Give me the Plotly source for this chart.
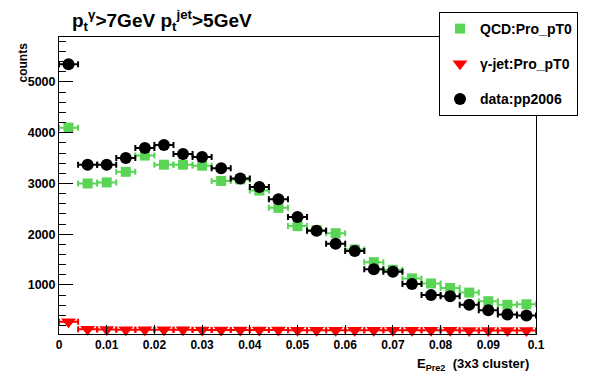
import plotly.graph_objects as go

x_centers = [0.002 + 0.004 * i for i in range(25)]
bin_half = [0.002] * 25

qcd = [4100, 3000, 3020, 3230, 3550, 3370, 3370, 3350, 3050, 3080,
       2860, 2520, 2160, 2080, 2020, 1700, 1450, 1300, 1130, 1030,
       940, 850, 680, 610, 620]
gjet = [276, 126, 122, 120, 118, 118, 116, 115, 114, 113,
        112, 111, 110, 110, 109, 108, 108, 107, 107, 106,
        106, 105, 105, 104, 104]
data = [5350, 3370, 3370, 3500, 3700, 3760, 3580, 3520, 3300, 3100,
        2930, 2690, 2340, 2070, 1810, 1670, 1310, 1260, 1020, 800,
        780, 610, 500, 420, 400]

x_tick_vals = [0, 0.01, 0.02, 0.03, 0.04, 0.05, 0.06, 0.07, 0.08, 0.09, 0.1]
x_tick_text = ["0", "0.01", "0.02", "0.03", "0.04", "0.05", "0.06", "0.07",
               "0.08", "0.09", "0.1"]
y_tick_vals = [1000, 2000, 3000, 4000, 5000]
y_tick_text = ["1000", "2000", "3000", "4000", "5000"]

GREEN = "#59d454"
FONT = "Liberation Sans"

fig = go.Figure()

def add(y, name, color, symbol, size, group):
    fig.add_trace(go.Scatter(
        x=x_centers, y=y, mode="markers", name="<b>" + name + "</b>",
        legendgroup=group,
        marker=dict(color=color, symbol=symbol, size=size, line=dict(width=0)),
        error_x=dict(type="data", array=bin_half, visible=True,
                     color=color, thickness=2, width=3),
        cliponaxis=False,
    ))

add(qcd, "QCD:Pro_pT0", GREEN, "square", 10, "a")
add(gjet, "γ-jet:Pro_pT0", "#ff0000", "triangle-down", 13, "b")
add(data, "data:pp2006", "black", "circle", 12, "c")

fig.update_layout(
    width=596, height=372,
    margin=dict(l=59, r=60, t=37, b=38, autoexpand=False),
    paper_bgcolor="white", plot_bgcolor="white",
    font=dict(family=FONT, color="black", size=12),
    showlegend=True,
    legend=dict(
        x=(439 - 59) / 477, y=(334 - 12) / 297, xanchor="left", yanchor="top",
        bgcolor="white", bordercolor="black", borderwidth=1,
        font=dict(family=FONT, size=14, color="black"),
        tracegroupgap=14, itemwidth=30,
    ),
)

fig.update_xaxes(
    range=[0, 0.1], tickvals=x_tick_vals, ticktext=x_tick_text,
    showline=True, linecolor="black", linewidth=1, mirror=True,
    ticks="inside", ticklen=9, tickcolor="black",
    showgrid=False, zeroline=False, automargin=False, tickangle=0,
    tickfont=dict(family=FONT, size=12, color="black", weight="bold"),
)
fig.update_yaxes(
    range=[34, 5886], tickvals=y_tick_vals, ticktext=y_tick_text,
    showline=True, linecolor="black", linewidth=1, mirror=True,
    ticks="inside", ticklen=14, tickcolor="black",
    minor=dict(ticks="inside", ticklen=7, dtick=200, tick0=0, tickcolor="black"),
    showgrid=False, zeroline=False, automargin=False,
    tickfont=dict(family=FONT, size=12.5, color="black", weight="bold"),
)

fig.add_annotation(
    text="<b>p<sub>t</sub><sup>γ</sup>>7GeV p<sub>t</sub><sup>jet</sup>>5GeV</b>",
    xref="paper", yref="paper", x=(71 - 59) / 477, y=1.0, yshift=2,
    xanchor="left", yanchor="bottom", showarrow=False, borderpad=0,
    font=dict(family=FONT, size=19, color="black"),
)
fig.add_annotation(
    text="<b>counts</b>", textangle=-90,
    xref="paper", yref="paper", x=(22.5 - 59) / 477, y=(334 - 41) / 297,
    xanchor="center", yanchor="top", showarrow=False,
    font=dict(family=FONT, size=12, color="black"),
)
fig.add_annotation(
    text="<b>E<sub>Pre2</sub>  (3x3 cluster)</b>",
    xref="paper", yref="paper", x=(531 - 59) / 477, y=-0.068,
    xanchor="right", yanchor="top", showarrow=False,
    font=dict(family=FONT, size=13, color="black"),
)

fig.write_html(
    "out.html",
    config={"displayModeBar": False},
    post_script="document.body.style.margin='0';document.body.style.overflow='hidden';",
)
